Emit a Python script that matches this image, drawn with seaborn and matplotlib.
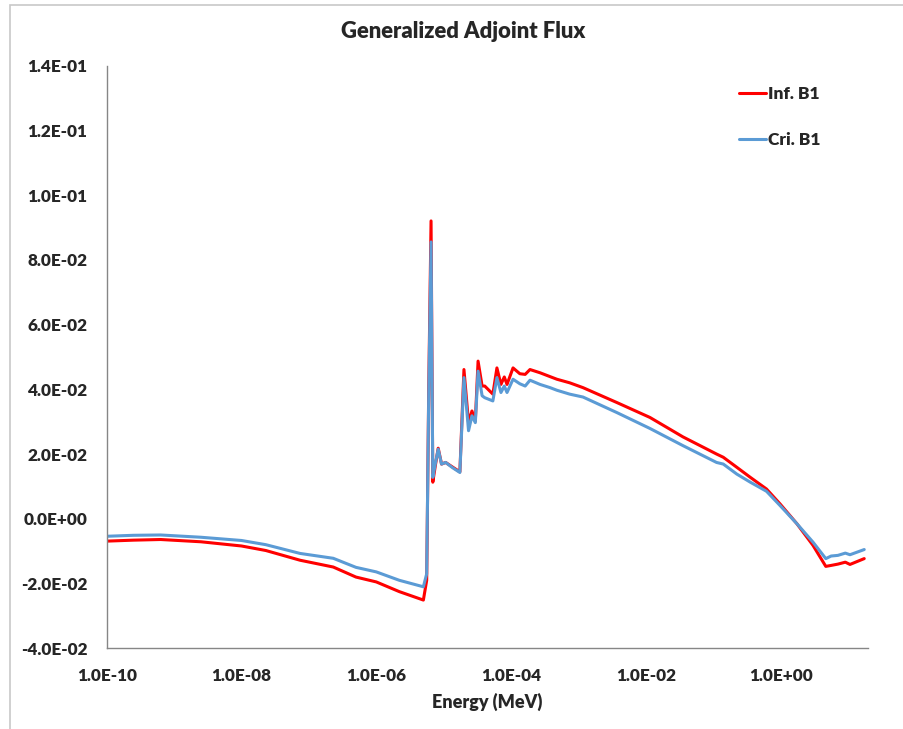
import numpy as np
import pandas as pd
import seaborn as sns
import matplotlib.pyplot as plt
from matplotlib.patches import Rectangle
from matplotlib.ticker import FuncFormatter, FixedLocator, NullLocator

# energy grid (MeV)
energy = [1.0e-10, 2.5e-10, 6.3e-10, 2.5e-09, 1.0e-08, 2.3e-08, 7.4e-08, 2.3e-07,
          5.0e-07, 1.0e-06, 2.2e-06, 5.0e-06, 5.6e-06, 6.0e-06, 6.5e-06, 6.9e-06,
          7.6e-06, 8.3e-06, 9.3e-06, 1.07e-05, 1.35e-05, 1.74e-05, 2.0e-05, 2.34e-05,
          2.63e-05, 2.95e-05, 3.24e-05, 3.72e-05, 4.07e-05, 5.37e-05, 6.17e-05,
          7.08e-05, 7.94e-05, 8.71e-05, 1.07e-04, 1.35e-04, 1.62e-04, 1.91e-04,
          2.69e-04, 3.80e-04, 4.79e-04, 7.41e-04, 1.17e-03, 3.72e-03, 1.15e-02,
          3.55e-02, 1.12e-01, 1.41e-01, 2.24e-01, 3.55e-01, 6.17e-01, 9.8e-01,
          1.74e+00, 3.02e+00, 4.68e+00, 5.62e+00, 7.08e+00, 9.12e+00, 1.07e+01,
          1.74e+01]

inf_b1 = [-0.0069, -0.0066, -0.0064, -0.0071, -0.0084, -0.0098, -0.0128, -0.0149,
          -0.0180, -0.0195, -0.0225, -0.0251, -0.0190, 0.0400, 0.0920, 0.0113,
          0.0170, 0.0218, 0.0169, 0.0174, 0.0160, 0.0145, 0.0461, 0.0297,
          0.0333, 0.0302, 0.0487, 0.0410, 0.0410, 0.0385, 0.0466, 0.0415,
          0.0438, 0.0415, 0.0466, 0.0448, 0.0446, 0.0461, 0.0451, 0.0439,
          0.0431, 0.0420, 0.0405, 0.0359, 0.0313, 0.0253, 0.0200, 0.0190,
          0.0159, 0.0128, 0.0092, 0.0046, -0.0015, -0.0082, -0.0147, -0.0144,
          -0.0140, -0.0134, -0.0141, -0.0123]

cri_b1 = [-0.0054, -0.0051, -0.0050, -0.0057, -0.0067, -0.0080, -0.0107, -0.0122,
          -0.0150, -0.0164, -0.0190, -0.0210, -0.0170, 0.0380, 0.0855, 0.0128,
          0.0175, 0.0215, 0.0169, 0.0174, 0.0158, 0.0143, 0.0436, 0.0272,
          0.0318, 0.0297, 0.0456, 0.0380, 0.0374, 0.0364, 0.0436, 0.0390,
          0.0410, 0.0390, 0.0431, 0.0417, 0.0410, 0.0428, 0.0415, 0.0405,
          0.0397, 0.0385, 0.0376, 0.0328, 0.0279, 0.0226, 0.0174, 0.0169,
          0.0138, 0.0113, 0.0085, 0.0041, -0.0015, -0.0072, -0.0123, -0.0115,
          -0.0113, -0.0106, -0.0111, -0.0095]

series_names = ["Inf. B1", "Cri. B1"]
x_ticks = [1e-10, 1e-8, 1e-6, 1e-4, 1e-2, 1e0]
y_ticks = [-0.04, -0.02, 0.0, 0.02, 0.04, 0.06, 0.08, 0.10, 0.12, 0.14]

df = pd.DataFrame({
    "Energy": energy * 2,
    "Flux": inf_b1 + cri_b1,
    "Series": [series_names[0]] * len(energy) + [series_names[1]] * len(energy),
})

sns.set_style("white")
plt.rcParams["font.family"] = ["Lato", "DejaVu Sans"]
W = 800  # heavy weight, closest to Calibri Bold

fig = plt.figure(figsize=(9.04, 7.29), dpi=100)
ax = fig.add_axes([106.7 / 904, 1 - 648.3 / 729, (868.3 - 106.7) / 904, (648.3 - 65.5) / 729])

sns.lineplot(data=df, x="Energy", y="Flux", hue="Series", sort=False,
             palette={"Inf. B1": "#FF0000", "Cri. B1": "#5B9BD5"},
             linewidth=2.2, ax=ax, estimator=None)

ax.set_xscale("log")
ax.set_xlim(1e-10, 2e1)
ax.set_ylim(-0.04, 0.14)
ax.xaxis.set_major_locator(FixedLocator(x_ticks))
ax.xaxis.set_minor_locator(NullLocator())
ax.set_yticks(y_ticks)
fmt = FuncFormatter(lambda v, p: f"{v:.1E}")
ax.xaxis.set_major_formatter(fmt)
ax.yaxis.set_major_formatter(fmt)
ax.tick_params(axis="both", which="major", labelsize=12.3, length=4.5, width=1,
               color="#868686", direction="out")
ax.tick_params(axis="y", pad=9.5)
ax.tick_params(axis="x", pad=10)
for lab in ax.get_xticklabels() + ax.get_yticklabels():
    lab.set_fontweight(W)

for side in ["top", "right"]:
    ax.spines[side].set_visible(False)
for side in ["left", "bottom"]:
    ax.spines[side].set_color("#868686")
    ax.spines[side].set_linewidth(1)

ax.set_xlabel("")
ax.set_ylabel("")
fig.text(487 / 904, 1 - 702 / 729, "Energy (MeV)", ha="center", va="center",
         fontsize=13, fontweight=W)
fig.text(463 / 904, 1 - 31 / 729, "Generalized Adjoint Flux", ha="center", va="center",
         fontsize=15.8, fontweight=W)

handles, labels = ax.get_legend_handles_labels()
ax.legend(handles, labels, loc="upper left", frameon=False,
          bbox_to_anchor=(739 / 904, 1 - 86 / 729), bbox_transform=fig.transFigure,
          borderpad=0, borderaxespad=0, handlelength=1.55, handletextpad=0.12,
          labelspacing=1.75, prop={"weight": W, "size": 12.5})

# outer chart border
fig.add_artist(Rectangle((10 / 904, -0.1), 1.0, 1.1 - 5 / 729, transform=fig.transFigure,
                         fill=False, edgecolor="#C8C8C8", linewidth=1.2))

fig.savefig("out.png", dpi=100)
